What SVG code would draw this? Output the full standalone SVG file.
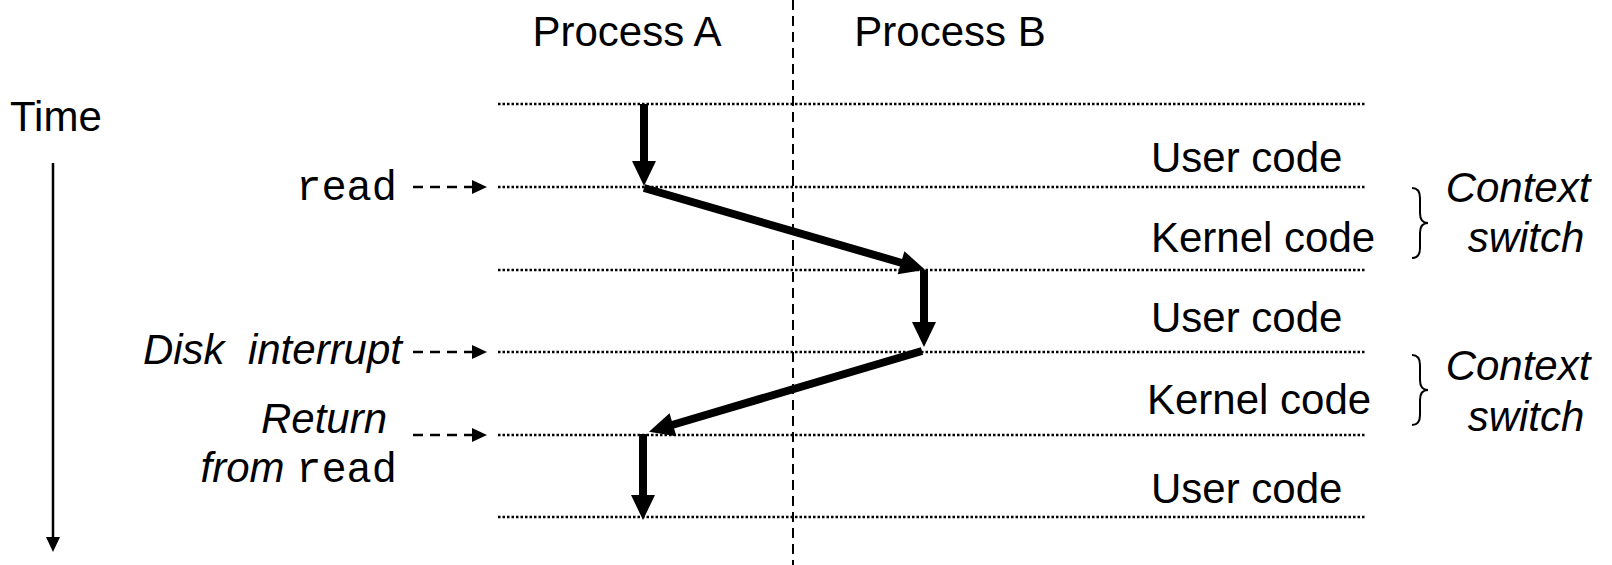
<svg xmlns="http://www.w3.org/2000/svg" width="1612" height="565" viewBox="0 0 1612 565">
<style>
text{font-family:"Liberation Sans",Arial,sans-serif;font-size:42px;fill:#000;white-space:pre}
.it{font-style:italic}
.mono{font-family:"Liberation Mono","Courier New",monospace}
.dot{stroke:#000;stroke-width:2.5;stroke-dasharray:2.5 2;fill:none}
.vdash{stroke:#000;stroke-width:2;stroke-dasharray:10 6;fill:none}
.thick{stroke:#000;stroke-width:8;fill:none;marker-end:url(#headL)}
.dash{stroke:#000;stroke-width:2.5;stroke-dasharray:10 7;fill:none;marker-end:url(#headS)}
.time{stroke:#000;stroke-width:2.5;fill:none;marker-end:url(#headS)}
.brace{stroke:#000;stroke-width:2;fill:none}
</style>
<defs>
<marker id="headL" markerUnits="userSpaceOnUse" markerWidth="26" markerHeight="24" refX="1" refY="12" orient="auto" overflow="visible">
<path d="M0,0 L25,12 L0,24 z" fill="#000"/>
</marker>
<marker id="headS" markerUnits="userSpaceOnUse" markerWidth="15" markerHeight="14" refX="0" refY="7" orient="auto" overflow="visible">
<path d="M0,0 L15,7 L0,14 z" fill="#000"/>
</marker>
</defs>
<rect width="1612" height="565" fill="#fff"/>
<g id="headers">
<text x="627" y="46" text-anchor="middle">Process A</text>
<text x="950" y="46" text-anchor="middle">Process B</text>
</g>
<g id="grid">
<line class="vdash" x1="793" y1="0" x2="793" y2="565"/>
<line class="dot" x1="498" y1="104" x2="1366" y2="104"/>
<line class="dot" x1="498" y1="187" x2="1366" y2="187"/>
<line class="dot" x1="498" y1="270" x2="1366" y2="270"/>
<line class="dot" x1="498" y1="352" x2="1366" y2="352"/>
<line class="dot" x1="498" y1="435" x2="1366" y2="435"/>
<line class="dot" x1="498" y1="517" x2="1366" y2="517"/>
</g>
<g id="time">
<text x="10" y="131">Time</text>
<line class="time" x1="53" y1="163" x2="53" y2="537"/>
</g>
<g id="label-read">
<text x="397" y="200" text-anchor="end" class="mono">read</text>
</g>
<g id="label-disk">
<text x="402" y="364" text-anchor="end" class="it">Disk  interrupt</text>
</g>
<g id="label-return">
<text x="387" y="433" text-anchor="end" class="it">Return</text>
<text x="397" y="482" text-anchor="end"><tspan class="it">from </tspan><tspan class="mono">read</tspan></text>
</g>
<g id="right-labels">
<text x="1151" y="172">User code</text>
<text x="1151" y="252">Kernel code</text>
<text x="1151" y="332">User code</text>
<text x="1147" y="414">Kernel code</text>
<text x="1151" y="503">User code</text>
</g>
<g id="context-switch-1">
<path class="brace" d="M1412,188 q8,0 8,10 v15 q0,10 8,10 q-8,0 -8,10 v15 q0,10 -8,10"/>
<text x="1518" y="202" text-anchor="middle" class="it">Context</text>
<text x="1526" y="252" text-anchor="middle" class="it">switch</text>
</g>
<g id="context-switch-2">
<path class="brace" d="M1412,355 q8,0 8,10 v15 q0,10 8,10 q-8,0 -8,10 v15 q0,10 -8,10"/>
<text x="1518" y="380" text-anchor="middle" class="it">Context</text>
<text x="1526" y="431" text-anchor="middle" class="it">switch</text>
</g>
<g id="connectors">
<line class="dash" x1="413" y1="187" x2="472" y2="187"/>
<line class="dash" x1="413" y1="352" x2="472" y2="352"/>
<line class="dash" x1="413" y1="435" x2="472" y2="435"/>
<line class="thick" x1="644" y1="104" x2="644" y2="162"/>
<line class="thick" x1="644" y1="188" x2="902" y2="263"/>
<line class="thick" x1="924" y1="270" x2="924" y2="323"/>
<line class="thick" x1="922" y1="351" x2="672" y2="425"/>
<line class="thick" x1="643" y1="434" x2="643" y2="496"/>
</g>
</svg>
